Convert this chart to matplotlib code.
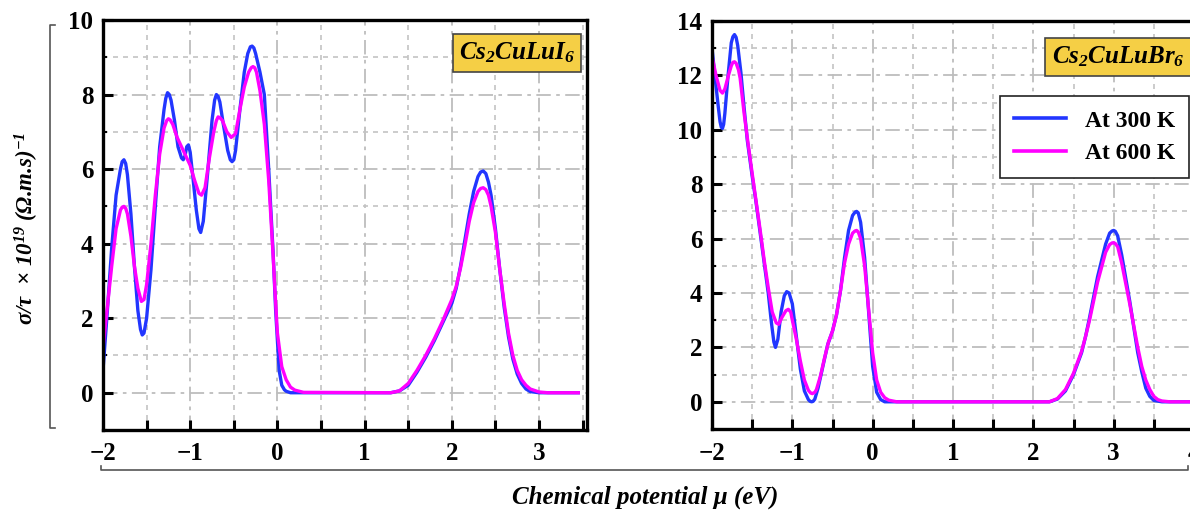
import matplotlib
matplotlib.use("Agg")
import matplotlib.pyplot as plt
from matplotlib.lines import Line2D
from matplotlib.ticker import MultipleLocator

plt.rcParams['font.family'] = ['Liberation Serif', 'DejaVu Serif']
plt.rcParams['mathtext.fontset'] = 'custom'
plt.rcParams['mathtext.rm'] = 'Liberation Serif:bold:italic'
plt.rcParams['mathtext.it'] = 'Liberation Serif:bold:italic'
plt.rcParams['mathtext.bf'] = 'Liberation Serif:bold:italic'

# ---------------- data: Cs2CuLuI6 ----------------
i_x300 = [-2.0, -1.95, -1.9, -1.85, -1.8, -1.78, -1.76, -1.74, -1.72, -1.68, -1.64, -1.6, -1.57,
          -1.55, -1.53, -1.5, -1.45, -1.4, -1.35, -1.3, -1.28, -1.26, -1.24, -1.22, -1.18, -1.14,
          -1.1, -1.08, -1.06, -1.04, -1.02, -1.0, -0.97, -0.93, -0.9, -0.88, -0.85, -0.8, -0.75,
          -0.72, -0.7, -0.68, -0.66, -0.62, -0.57, -0.54, -0.52, -0.5, -0.48, -0.43, -0.38, -0.34,
          -0.31, -0.29, -0.27, -0.25, -0.2, -0.15, -0.1, -0.05, -0.02, 0.0, 0.02, 0.05, 0.08, 0.1,
          0.15, 0.3, 1.3, 1.4, 1.5, 1.6, 1.7, 1.8, 1.9, 2.0, 2.05, 2.1, 2.15, 2.2, 2.25, 2.3, 2.33,
          2.36, 2.39, 2.42, 2.45, 2.5, 2.55, 2.6, 2.65, 2.7, 2.75, 2.8, 2.85, 2.9, 3.0, 3.45]
i_y300 = [0.6, 2.2, 3.9, 5.3, 6.0, 6.2, 6.25, 6.15, 5.85, 4.8, 3.4, 2.2, 1.7,
          1.55, 1.6, 2.0, 3.3, 5.0, 6.6, 7.6, 7.9, 8.05, 8.0, 7.85, 7.3, 6.6,
          6.3, 6.25, 6.35, 6.6, 6.65, 6.45, 5.8, 4.9, 4.4, 4.3, 4.6, 5.9, 7.3,
          7.85, 8.0, 7.95, 7.8, 7.2, 6.5, 6.25, 6.2, 6.25, 6.5, 7.6, 8.6, 9.1,
          9.28, 9.3, 9.25, 9.1, 8.6, 8.0, 6.0, 3.8, 2.2, 1.4, 0.6, 0.2, 0.08, 0.04,
          0.0, 0.0, 0.0, 0.05, 0.2, 0.55, 0.95, 1.4, 1.9, 2.4, 2.8, 3.4, 4.1, 4.8, 5.4, 5.8, 5.92,
          5.95, 5.88, 5.65, 5.3, 4.4, 3.3, 2.3, 1.5, 0.9, 0.5, 0.25, 0.1, 0.03, 0.0, 0.0]

i_x600 = [-2.0, -1.95, -1.9, -1.85, -1.8, -1.78, -1.76, -1.74, -1.72, -1.68, -1.64, -1.6, -1.56,
          -1.53, -1.5, -1.45, -1.4, -1.35, -1.3, -1.27, -1.25, -1.23, -1.2, -1.15, -1.1, -1.05,
          -1.0, -0.95, -0.9, -0.87, -0.83, -0.78, -0.73, -0.7, -0.68, -0.66, -0.63, -0.58, -0.53,
          -0.48, -0.43, -0.38, -0.33, -0.3, -0.28, -0.26, -0.24, -0.2, -0.15, -0.1, -0.05, -0.02,
          0.0, 0.05, 0.1, 0.15, 0.2, 0.3, 1.3, 1.4, 1.5, 1.6, 1.7, 1.8, 1.9, 2.0, 2.05, 2.1, 2.15,
          2.2, 2.25, 2.3, 2.33, 2.36, 2.39, 2.42, 2.45, 2.5, 2.55, 2.6, 2.65, 2.7, 2.75, 2.8, 2.85,
          2.9, 3.0, 3.1, 3.45]
i_y600 = [1.2, 2.3, 3.4, 4.4, 4.9, 4.98, 5.0, 4.95, 4.8, 4.2, 3.4, 2.8, 2.45,
          2.5, 2.9, 4.0, 5.3, 6.4, 7.1, 7.3, 7.35, 7.32, 7.2, 6.85, 6.6, 6.35,
          6.1, 5.7, 5.35, 5.3, 5.5, 6.3, 7.0, 7.3, 7.4, 7.38, 7.3, 7.0, 6.85,
          6.95, 7.6, 8.2, 8.6, 8.72, 8.75, 8.72, 8.6, 8.1, 7.2, 5.7, 3.7, 2.4,
          1.6, 0.7, 0.35, 0.15, 0.07, 0.01, 0.0, 0.05, 0.25, 0.6, 1.0, 1.45, 1.95, 2.5, 2.85, 3.35, 3.95,
          4.6, 5.1, 5.4, 5.48, 5.5, 5.45, 5.3, 5.0, 4.3, 3.3, 2.4, 1.6, 1.0, 0.6, 0.35, 0.2,
          0.1, 0.02, 0.0, 0.0]

# ---------------- data: Cs2CuLuBr6 ----------------
b_x300 = [-2.0, -1.95, -1.92, -1.9, -1.885, -1.87, -1.855, -1.84, -1.8, -1.76, -1.74, -1.72, -1.7,
          -1.68, -1.64, -1.6, -1.56, -1.5, -1.45, -1.4, -1.35, -1.3, -1.26, -1.23, -1.21, -1.18,
          -1.14, -1.1, -1.07, -1.04, -1.02, -1.0, -0.95, -0.9, -0.85, -0.8, -0.78, -0.76, -0.74,
          -0.72, -0.68, -0.62, -0.56, -0.5, -0.45, -0.4, -0.35, -0.3, -0.25, -0.22, -0.2, -0.18,
          -0.15, -0.1, -0.05, 0.0, 0.05, 0.1, 0.15, 2.2, 2.3, 2.4, 2.5, 2.6, 2.65, 2.7, 2.8, 2.9,
          2.95, 2.98, 3.0, 3.02, 3.05, 3.1, 3.2, 3.3, 3.35, 3.4, 3.45, 3.5, 3.6, 4.0]
b_y300 = [13.0, 11.6, 10.8, 10.3, 10.1, 10.05, 10.2, 10.6, 12.0, 13.2, 13.42, 13.5, 13.4,
          13.1, 12.1, 10.8, 9.6, 8.3, 7.3, 6.2, 5.1, 4.0, 2.9, 2.2, 2.0, 2.3,
          3.3, 3.9, 4.05, 4.0, 3.8, 3.6, 2.4, 1.2, 0.4, 0.08, 0.02, 0.0, 0.02,
          0.1, 0.5, 1.3, 2.1, 2.6, 3.2, 4.1, 5.3, 6.3, 6.85, 6.97, 7.0, 6.95,
          6.6, 5.3, 3.3, 1.3, 0.35, 0.08, 0.0, 0.0, 0.1, 0.4, 1.0, 1.8, 2.4, 3.1, 4.6, 5.8,
          6.2, 6.28, 6.3, 6.27, 6.1, 5.4, 3.7, 1.8, 1.1, 0.5, 0.2, 0.05, 0.0, 0.0]

b_x600 = [-2.0, -1.95, -1.9, -1.87, -1.84, -1.8, -1.76, -1.74, -1.72, -1.7, -1.67, -1.65, -1.6,
          -1.56, -1.5, -1.45, -1.4, -1.35, -1.3, -1.25, -1.2, -1.17, -1.13, -1.08, -1.05, -1.02,
          -1.0, -0.95, -0.9, -0.85, -0.8, -0.77, -0.75, -0.72, -0.7, -0.65, -0.6, -0.55, -0.5,
          -0.45, -0.4, -0.35, -0.3, -0.25, -0.22, -0.2, -0.18, -0.15, -0.1, -0.05, 0.0, 0.05, 0.1,
          0.15, 0.2, 0.3, 2.2, 2.3, 2.4, 2.5, 2.6, 2.65, 2.7, 2.8, 2.9, 2.95, 2.98, 3.0, 3.02,
          3.05, 3.1, 3.2, 3.3, 3.35, 3.4, 3.45, 3.5, 3.55, 3.6, 3.7, 4.0]
b_y600 = [12.7, 12.0, 11.45, 11.35, 11.5, 11.95, 12.35, 12.48, 12.5, 12.45, 12.2, 11.9, 10.6,
          9.7, 8.4, 7.35, 6.3, 5.2, 4.2, 3.3, 2.9, 2.85, 3.1, 3.35, 3.4, 3.3,
          3.0, 2.3, 1.5, 0.8, 0.42, 0.32, 0.3, 0.35, 0.45, 0.95, 1.6, 2.2, 2.6,
          3.2, 4.1, 5.1, 5.8, 6.2, 6.28, 6.3, 6.25, 6.0, 5.0, 3.4, 1.8, 0.8, 0.35,
          0.15, 0.06, 0.0, 0.0, 0.12, 0.45, 1.05, 1.85, 2.4, 3.0, 4.4, 5.5, 5.78, 5.84, 5.85, 5.82,
          5.7, 5.1, 3.6, 2.0, 1.3, 0.8, 0.45, 0.2, 0.08, 0.03, 0.0, 0.0]

labels = ["At 300 K", "At 600 K"]
compounds = [r"$Cs_2CuLuI_6$", r"$Cs_2CuLuBr_6$"]
left_yticks = [0, 2, 4, 6, 8, 10]
right_yticks = [0, 2, 4, 6, 8, 10, 12, 14]
left_xticks = [-2, -1, 0, 1, 2, 3]
right_xticks = [-2, -1, 0, 1, 2, 3, 4]

BLUE = "#2236ff"
MAG = "#ff00ff"
W, H = 1190, 515

fig = plt.figure(figsize=(11.9, 5.15), dpi=100)
ax1 = fig.add_axes([103 / W, 1 - 430 / H, (587 - 103) / W, (430 - 20) / H])
ax2 = fig.add_axes([712 / W, 1 - 429 / H, (1194 - 712) / W, (429 - 21) / H])


def style(ax, xlim, ylim, xt, yt):
    ax.set_xlim(*xlim)
    ax.set_ylim(*ylim)
    ax.set_xticks(xt)
    ax.set_yticks(yt)
    ax.xaxis.set_minor_locator(MultipleLocator(0.5))
    ax.yaxis.set_minor_locator(MultipleLocator(1))
    ax.grid(True, which='major', color='#bdbdbd', lw=1.3, ls=(0, (8, 3, 2, 3)))
    ax.grid(True, which='minor', color='#c4c4c4', lw=1.2, ls=(0, (3, 3)))
    ax.set_axisbelow(True)
    for s in ax.spines.values():
        s.set_linewidth(2.4)
    ax.tick_params(axis='both', which='major', direction='in', length=7, width=2.2,
                   labelsize=18, pad=7)
    ax.tick_params(axis='x', which='minor', direction='in', length=7, width=2.2)
    ax.tick_params(axis='y', which='minor', direction='in', length=3, width=1.5)
    ax.tick_params(axis='x', which='major', pad=9)
    for lab in ax.get_xticklabels() + ax.get_yticklabels():
        lab.set_fontweight('bold')


style(ax1, (-2, 3.55), (-1, 10), left_xticks, left_yticks)
style(ax2, (-2, 4), (-1, 14), right_xticks, right_yticks)

ax1.plot(i_x300, i_y300, color=BLUE, lw=2.4, label=labels[0])
ax1.plot(i_x600, i_y600, color=MAG, lw=2.4, label=labels[1])
l1, = ax2.plot(b_x300, b_y300, color=BLUE, lw=2.4, label=labels[0])
l2, = ax2.plot(b_x600, b_y600, color=MAG, lw=2.4, label=labels[1])

box = dict(boxstyle='square,pad=0.25', facecolor='#f5cf45', edgecolor='#444444', lw=1.2)
fig.text(517 / W, 1 - 53 / H, compounds[0], fontsize=18, ha='center', va='center', bbox=box)
fig.text(1118 / W, 1 - 57 / H, compounds[1], fontsize=18, ha='center', va='center', bbox=box)

leg = fig.legend(handles=[l1, l2], labels=labels, loc='upper right',
                 bbox_to_anchor=(1189 / W, 1 - 96 / H), borderaxespad=0.0,
                 frameon=True, fancybox=False,
                 edgecolor='#222222', framealpha=1, handlelength=2.2, borderpad=0.6,
                 labelspacing=0.45, handletextpad=0.8,
                 prop={'family': 'Liberation Serif', 'weight': 'bold', 'size': 17})
leg.get_frame().set_linewidth(1.2)
for ln in leg.get_lines():
    ln.set_linewidth(2.6)

fig.text(27 / W, 1 - 228 / H, r"σ/τ  × 10$^{19}$ (Ω.m.s)$^{-1}$", rotation=90,
         fontsize=16.5, fontweight='bold', fontstyle='italic', ha='center', va='center')
fig.text(645 / W, 1 - 497 / H, "Chemical potential μ (eV)", fontsize=18,
         fontweight='bold', fontstyle='italic', ha='center', va='center')

# bracket lines
bc = '#555555'
fig.add_artist(Line2D([55 / W, 50 / W, 50 / W, 55 / W],
                      [1 - 25 / H, 1 - 25 / H, 1 - 428 / H, 1 - 428 / H], color=bc, lw=1.2))
fig.add_artist(Line2D([101 / W, 101 / W, 1188 / W, 1188 / W],
                      [1 - 466 / H, 1 - 470 / H, 1 - 470 / H, 1 - 466 / H], color=bc, lw=1.2))

fig.savefig("out.png", dpi=100)
